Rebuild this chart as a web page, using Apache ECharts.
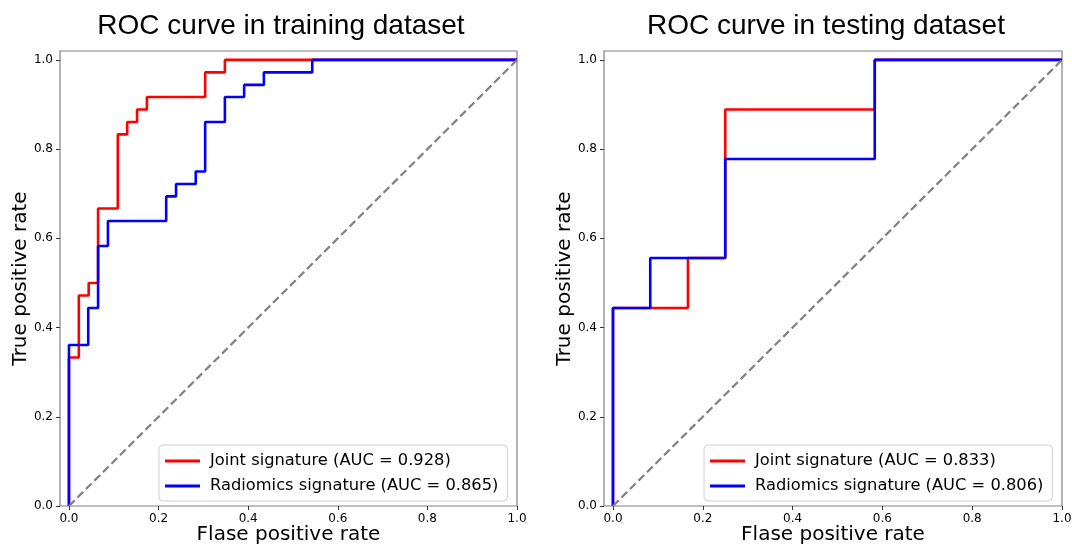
<!DOCTYPE html>
<html>
<head>
<meta charset="utf-8" />
<title>ROC curves</title>
<script type="text/javascript" src="https://cdn.jsdelivr.net/npm/echarts@6/dist/echarts.min.js"></script>
<style>
  html, body { margin: 0; padding: 0; background: #fff; }
  #main { width: 1072px; height: 545px; }
</style>
</head>
<body>
<div id="main"></div>
<script type="text/javascript">
// training set
var trainJointFpr = [0, 0, 0.022, 0.022, 0.044, 0.044, 0.065, 0.065, 0.109, 0.109, 0.130, 0.130, 0.152, 0.152, 0.174, 0.174, 0.304, 0.304, 0.348, 0.348, 1.0];
var trainJointTpr = [0, 0.333, 0.333, 0.472, 0.472, 0.500, 0.500, 0.667, 0.667, 0.833, 0.833, 0.861, 0.861, 0.889, 0.889, 0.917, 0.917, 0.972, 0.972, 1.0, 1.0];
var trainRadFpr = [0, 0, 0.043, 0.043, 0.065, 0.065, 0.087, 0.087, 0.217, 0.217, 0.239, 0.239, 0.283, 0.283, 0.304, 0.304, 0.348, 0.348, 0.391, 0.391, 0.435, 0.435, 0.543, 0.543, 1.0];
var trainRadTpr = [0, 0.361, 0.361, 0.444, 0.444, 0.583, 0.583, 0.639, 0.639, 0.694, 0.694, 0.722, 0.722, 0.750, 0.750, 0.861, 0.861, 0.917, 0.917, 0.944, 0.944, 0.972, 0.972, 1.0, 1.0];

// testing set
var testJointFpr = [0, 0, 0.167, 0.167, 0.250, 0.250, 0.583, 0.583, 1.0];
var testJointTpr = [0, 0.444, 0.444, 0.556, 0.556, 0.889, 0.889, 1.0, 1.0];
var testRadFpr = [0, 0, 0.083, 0.083, 0.250, 0.250, 0.583, 0.583, 1.0];
var testRadTpr = [0, 0.444, 0.444, 0.556, 0.556, 0.778, 0.778, 1.0, 1.0];

var chanceLine = [0, 1];
var tickValues = [0, 0.2, 0.4, 0.6, 0.8, 1.0];

var trainNames = ['Joint signature (AUC = 0.928)', 'Radiomics signature (AUC = 0.865)'];
var testNames = ['Joint signature (AUC = 0.833)', 'Radiomics signature (AUC = 0.806)'];
var titles = ['ROC curve in training dataset', 'ROC curve in testing dataset'];

var FONT = 'DejaVu Sans';

function pairs(xs, ys) {
  return xs.map(function (x, i) { return [x, ys[i]]; });
}

function xAxisFor(idx) {
  return {
    gridIndex: idx, type: 'value', min: -0.02, max: 1.0,
    name: 'Flase positive rate', nameLocation: 'middle', nameGap: 19, nameMoveOverlap: false,
    nameTextStyle: { fontFamily: FONT, fontSize: 20, color: '#000' },
    axisLine: { show: false, onZero: false },
    axisTick: { show: true, inside: false, length: 4, lineStyle: { color: '#333' }, customValues: tickValues },
    axisLabel: { customValues: tickValues, margin: 7, fontFamily: FONT, fontSize: 12, color: '#000',
      formatter: function (v) { return v.toFixed(1); } },
    splitLine: { show: false }
  };
}

function yAxisFor(idx) {
  return {
    gridIndex: idx, type: 'value', min: 0, max: 1.02,
    name: 'True positive rate', nameLocation: 'middle', nameGap: 29, nameMoveOverlap: false,
    nameTextStyle: { fontFamily: FONT, fontSize: 20, color: '#000' },
    axisLine: { show: false, onZero: false },
    axisTick: { show: true, inside: false, length: 4, lineStyle: { color: '#333' }, customValues: tickValues },
    axisLabel: { customValues: tickValues, margin: 7, fontFamily: FONT, fontSize: 12, color: '#000',
      formatter: function (v) { return v.toFixed(1); } },
    splitLine: { show: false }
  };
}

function curve(name, idx, data, color) {
  return {
    name: name, type: 'line', xAxisIndex: idx, yAxisIndex: idx,
    data: data, symbol: 'none', animation: false,
    lineStyle: { color: color, width: 2.6 }, itemStyle: { color: color }
  };
}

function diag(idx) {
  return {
    type: 'line', xAxisIndex: idx, yAxisIndex: idx, symbol: 'none', animation: false,
    data: pairs(chanceLine, chanceLine), z: 3,
    lineStyle: { color: '#808080', width: 2.2, type: [8, 4] }
  };
}

function legendFor(names, left) {
  return {
    data: names, orient: 'vertical', left: left, top: 445,
    icon: 'rect', itemWidth: 35, itemHeight: 3, itemGap: 7,
    padding: [7, 9, 6, 6],
    backgroundColor: '#fff', borderColor: '#d0d0d0', borderWidth: 1, borderRadius: 4,
    textStyle: { fontFamily: FONT, fontSize: 16.3, color: '#000', lineHeight: 18, padding: [0, 0, 0, 5] }
  };
}

var myChart = echarts.init(document.getElementById('main'), null, { renderer: 'canvas' });
myChart.setOption({
  backgroundColor: '#fff',
  animation: false,
  title: [
    { text: titles[0], left: 276, top: 7, textAlign: 'center',
      textStyle: { fontFamily: 'Liberation Sans', fontSize: 28, fontWeight: 'normal', color: '#000' } },
    { text: titles[1], left: 821, top: 7, textAlign: 'center',
      textStyle: { fontFamily: 'Liberation Sans', fontSize: 28, fontWeight: 'normal', color: '#000' } }
  ],
  grid: [
    { left: 60, right: 555, top: 51, bottom: 39, show: true, borderColor: '#808080', borderWidth: 1.2,
      outerBoundsMode: 'none', containLabel: false },
    { left: 604, right: 10, top: 51, bottom: 39, show: true, borderColor: '#808080', borderWidth: 1.2,
      outerBoundsMode: 'none', containLabel: false }
  ],
  legend: [legendFor(trainNames, 159), legendFor(testNames, 704)],
  xAxis: [xAxisFor(0), xAxisFor(1)],
  yAxis: [yAxisFor(0), yAxisFor(1)],
  series: [
    curve(trainNames[0], 0, pairs(trainJointFpr, trainJointTpr), '#ff0000'),
    curve(trainNames[1], 0, pairs(trainRadFpr, trainRadTpr), '#0000ff'),
    diag(0),
    curve(testNames[0], 1, pairs(testJointFpr, testJointTpr), '#ff0000'),
    curve(testNames[1], 1, pairs(testRadFpr, testRadTpr), '#0000ff'),
    diag(1)
  ]
});

window.onresize = function () {
  myChart.resize();
};
</script>
</body>
</html>
